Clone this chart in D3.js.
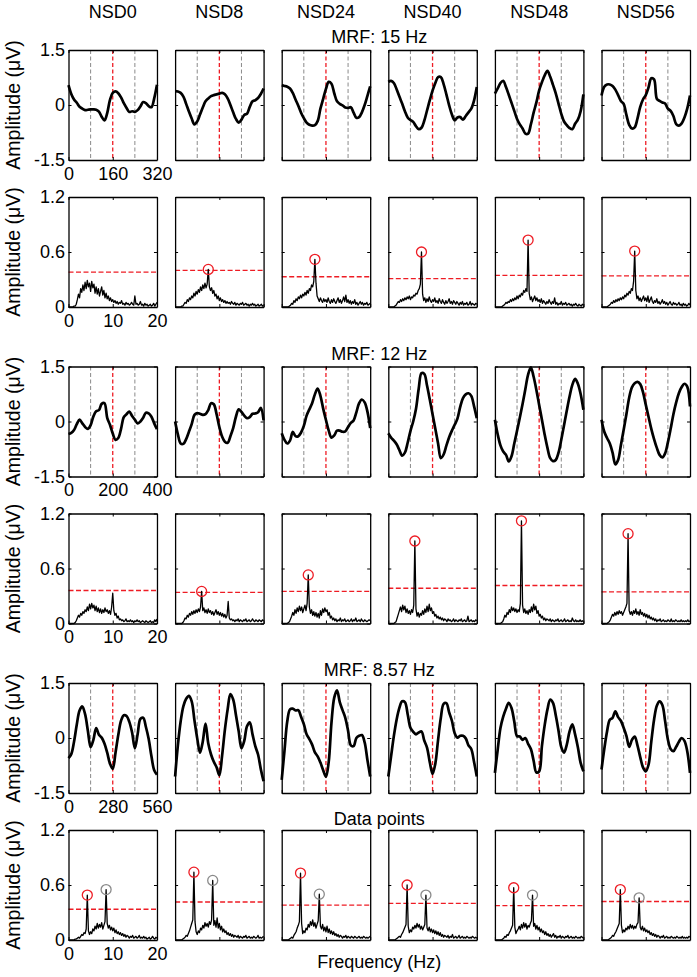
<!DOCTYPE html>
<html>
<head>
<meta charset="utf-8">
<title>mfVEP waveforms and spectra</title>
<script src="https://d3js.org/d3.v7.min.js"></script>
<style>
  body { margin: 0; background: #fff; }
  svg text {
    font-family: "Liberation Sans", Arial, Helvetica, sans-serif;
    font-size: 18px;
    fill: #000;
  }
  svg text.ylab { font-size: 19.5px; }
  .axis path { stroke: #000; stroke-width: 1.3; }
  .axis line { stroke: #000; stroke-width: 1; }
</style>
</head>
<body>
<div id="chart"></div>
<script>
// column names (subjects)
const subjects = ["NSD0", "NSD8", "NSD24", "NSD40", "NSD48", "NSD56"];
const titles = ["MRF: 15 Hz", "MRF: 12 Hz", "MRF: 8.57 Hz"];

// time axis (data points) for each stimulation rate
const waveLength = [320, 400, 560];
const waveTicks = [[0, 160, 320], [0, 200, 400], [0, 280, 560]];
const waveMarks = [[80, 160, 240], [100, 200, 300], [140, 280, 420]];
const ampTicks = [-1.5, 0, 1.5];

// averaged waveforms, 33 evenly spaced samples over the window (uV)
const waves15 = [
  [0.54,0.30,0.15,0.06,-0.05,-0.10,-0.14,-0.13,-0.12,-0.12,-0.13,-0.18,-0.32,-0.42,-0.22,0.14,0.33,0.37,0.32,0.21,0.05,-0.08,-0.19,-0.17,-0.19,-0.14,-0.04,0.08,0.05,-0.03,-0.06,0.18,0.55],
  [0.38,0.37,0.33,0.23,0.03,-0.18,-0.37,-0.53,-0.45,-0.26,-0.07,0.10,0.18,0.24,0.27,0.29,0.31,0.33,0.29,0.18,0.00,-0.20,-0.38,-0.48,-0.40,-0.27,-0.24,-0.05,0.10,0.13,0.19,0.30,0.45],
  [0.54,0.52,0.50,0.45,0.33,0.15,-0.02,-0.21,-0.36,-0.48,-0.54,-0.56,-0.55,-0.44,-0.10,0.17,0.44,0.63,0.58,0.32,0.10,0.03,-0.01,-0.07,-0.08,-0.06,-0.21,-0.35,-0.33,-0.20,0.00,0.25,0.51],
  [0.63,0.66,0.60,0.43,0.23,0.04,-0.17,-0.34,-0.41,-0.46,-0.58,-0.66,-0.62,-0.43,-0.15,0.13,0.39,0.60,0.76,0.76,0.57,0.29,-0.01,-0.26,-0.42,-0.34,-0.33,-0.40,-0.30,-0.20,-0.10,0.12,0.49],
  [0.31,0.45,0.60,0.66,0.49,0.28,0.06,-0.16,-0.38,-0.53,-0.64,-0.78,-0.78,-0.53,-0.21,0.07,0.40,0.62,0.81,0.93,0.77,0.55,0.32,0.04,-0.24,-0.45,-0.55,-0.63,-0.66,-0.51,-0.40,-0.17,0.29],
  [0.26,0.50,0.56,0.56,0.52,0.42,0.27,0.11,0.03,-0.27,-0.54,-0.64,-0.61,-0.37,-0.05,0.15,0.27,0.48,0.73,0.70,0.17,0.11,0.07,0.04,-0.10,-0.16,-0.30,-0.52,-0.56,-0.50,-0.34,-0.10,0.26]
];
const waves12 = [
  [-0.34,-0.31,-0.23,-0.07,0.05,-0.05,-0.15,-0.20,-0.10,0.14,0.28,0.31,0.48,0.50,0.10,-0.09,-0.33,-0.50,-0.45,-0.20,0.12,0.20,0.27,0.15,0.05,-0.05,0.00,0.10,0.24,0.22,0.13,-0.05,-0.21],
  [0.00,-0.35,-0.60,-0.61,-0.48,-0.28,-0.07,0.18,0.23,0.21,0.18,0.20,0.31,0.50,0.47,0.20,-0.15,-0.41,-0.55,-0.58,-0.40,-0.18,0.13,0.33,0.26,0.16,0.09,0.12,0.21,0.22,0.25,0.37,0.03],
  [-0.32,-0.50,-0.60,-0.52,-0.28,-0.40,-0.40,-0.30,-0.12,0.16,0.33,0.50,0.74,0.90,0.70,0.35,0.04,-0.25,-0.44,-0.38,-0.25,-0.25,-0.28,-0.27,-0.15,-0.04,0.03,0.25,0.50,0.60,0.52,0.27,-0.18],
  [-0.32,-0.44,-0.52,-0.62,-0.78,-0.93,-0.85,-0.58,-0.26,0.00,0.34,0.90,1.32,1.30,0.98,0.60,0.20,-0.20,-0.60,-1.00,-0.90,-0.66,-0.43,-0.25,-0.09,0.08,0.40,0.64,0.74,0.77,0.70,0.42,0.09],
  [0.05,-0.35,-0.65,-0.82,-0.91,-1.09,-0.95,-0.60,-0.25,0.10,0.48,0.88,1.28,1.48,1.22,0.86,0.45,0.05,-0.36,-0.72,-1.00,-1.08,-1.05,-0.85,-0.50,-0.10,0.30,0.68,1.00,1.16,1.03,0.75,0.32],
  [0.05,-0.28,-0.45,-0.60,-0.85,-1.17,-1.05,-0.65,-0.23,0.20,0.65,0.93,1.04,1.08,1.02,0.80,0.46,0.13,-0.20,-0.48,-0.72,-0.91,-0.98,-0.87,-0.57,-0.20,0.20,0.52,0.78,0.94,1.03,0.95,0.41]
];
const waves857 = [
  [-0.55,-0.44,-0.10,0.37,0.75,0.86,0.65,0.20,-0.25,-0.05,0.27,0.09,0.01,-0.15,-0.40,-0.70,-0.84,-0.40,0.08,0.47,0.62,0.60,0.44,0.15,-0.28,0.10,0.52,0.55,0.30,-0.03,-0.50,-0.88,-1.00],
  [-1.05,-0.20,0.45,0.87,1.07,1.15,1.00,0.48,-0.01,-0.40,-0.10,0.39,-0.15,-0.45,-0.65,-0.80,-1.02,-0.48,0.22,0.78,1.20,1.05,0.63,0.18,-0.28,-0.08,0.32,0.43,0.10,-0.22,-0.45,-0.85,-1.18],
  [-1.14,-0.35,0.45,0.78,0.80,0.75,0.76,0.58,0.38,0.10,-0.03,-0.18,-0.39,-0.50,-0.67,-0.88,-1.06,-0.65,0.42,1.10,1.30,0.98,0.76,0.55,0.20,-0.20,-0.22,0.00,0.06,0.08,-0.12,-0.60,-1.05],
  [-1.05,-0.50,0.05,0.50,0.82,1.00,0.98,0.65,0.28,0.17,0.10,0.15,0.18,-0.07,-0.26,-0.66,-0.98,-0.70,-0.05,0.55,0.93,0.95,0.70,0.47,0.13,0.01,0.06,0.06,-0.01,-0.20,-0.30,-0.65,-1.05],
  [-0.95,-0.32,0.27,0.58,0.80,0.96,0.82,0.45,0.05,0.04,-0.05,0.00,-0.16,-0.30,-0.62,-0.94,-0.91,-0.22,0.35,0.78,1.05,0.96,0.62,0.20,-0.25,-0.40,-0.18,0.18,0.37,0.10,-0.25,-0.68,-0.91],
  [-0.86,-0.30,0.18,0.50,0.55,0.73,0.57,0.47,0.28,0.06,-0.24,-0.05,0.04,-0.20,-0.52,-0.80,-0.91,-0.73,-0.10,0.50,0.88,1.00,0.90,0.46,-0.04,-0.30,-0.36,-0.24,-0.10,0.00,-0.08,-0.36,-0.95]
];

// amplitude spectra, 0..20 Hz every 0.25 Hz, in hundredths of uV
const specStep = 0.25;
const freqTicks = [0, 10, 20];
const specTicks = [0, 0.6, 1.2];
const spec15 = [
  [0,0,0,0,0,1,1,3,8,14, 10,20,16,24,18,27,20,29,22,26, 17,28,21,25,15,22,14,20,12,17, 22,13,18,10,15,9,12,7,10,6, 8,5,7,4,6,3,5,4,7,3, 4,2,5,3,4,2,3,5,3,2, 12,3,4,2,3,6,2,3,1,4, 2,3,1,2,3,1,2,4,1,3, 5],
  [0,0,0,0,0,0,1,1,3,5, 4,8,6,10,8,12,10,15,12,17, 14,19,16,22,18,24,20,26,21,25, 41,22,18,21,15,18,12,14,9,12, 7,10,6,8,5,7,4,6,4,5, 3,6,4,3,5,2,4,3,2,4, 3,5,2,3,4,2,3,1,3,2, 4,2,3,1,2,3,1,2,3,1, 2],
  [0,0,0,0,0,0,0,1,2,4, 3,7,5,9,7,11,9,13,10,14, 12,16,13,18,15,20,18,24,22,28, 52,26,12,9,6,10,7,5,9,6, 8,5,10,6,4,8,5,9,6,4, 7,10,5,8,4,7,11,6,13,5, 8,4,7,3,6,4,8,3,5,2, 4,6,3,5,2,4,3,5,2,3, 4],
  [0,0,0,0,0,0,1,2,4,6, 5,8,6,9,7,10,8,11,9,12, 8,11,10,13,12,15,14,18,20,25, 60,14,7,10,5,9,6,11,7,5, 8,6,10,5,7,4,9,6,4,8, 5,3,7,4,6,9,4,6,3,7, 5,3,6,4,2,5,3,6,2,4, 3,5,2,3,6,2,4,3,2,4, 3],
  [0,0,0,0,0,0,0,1,2,3, 5,4,6,5,8,6,9,7,10,8, 12,9,13,11,15,13,18,16,20,17, 73,15,8,11,6,9,12,7,10,6, 8,5,9,4,7,5,3,6,4,8, 5,3,6,4,10,3,5,2,4,3, 6,2,4,3,5,2,3,4,2,3, 1,3,2,4,2,1,3,2,1,3, 2],
  [0,0,0,0,0,0,1,2,3,5, 4,7,5,8,6,9,7,10,8,11, 9,13,11,15,13,17,15,20,18,28, 61,18,9,12,7,10,6,9,12,7, 10,6,12,5,8,11,6,4,7,5, 9,4,6,3,5,8,4,6,3,5, 2,4,6,3,2,5,3,4,2,3, 5,2,3,1,4,2,3,1,2,4, 2]
];
const spec12 = [
  [0,0,0,0,0,0,1,3,6,9, 7,11,9,13,11,15,13,18,14,21, 16,22,17,20,14,19,13,17,12,16, 11,15,12,17,13,15,11,14,10,18, 33,14,9,11,6,8,4,5,3,4, 2,3,5,2,3,2,4,2,3,1, 3,2,4,2,3,1,2,3,2,1, 3,2,1,2,3,1,2,1,4,2, 5],
  [0,0,0,0,0,0,0,1,3,6, 5,9,7,11,9,13,10,14,11,15, 12,16,13,18,35,14,17,12,15,11, 16,12,14,10,13,9,12,15,10,13, 9,12,8,11,7,10,6,9,24,6, 4,5,3,4,2,4,3,5,2,4, 3,2,4,3,5,2,3,4,2,3, 5,3,2,4,3,2,4,3,2,4, 3],
  [0,0,0,0,0,0,1,2,5,8, 12,9,15,11,17,13,19,14,18,12, 16,20,14,22,53,18,11,15,9,13, 8,12,7,11,6,14,9,16,12,17, 13,15,9,12,6,8,4,6,3,5, 2,4,3,6,2,4,3,5,2,3, 4,2,3,5,2,4,3,6,2,3, 4,2,5,3,2,4,3,2,3,4, 3],
  [0,0,0,0,0,0,1,2,6,10, 14,18,13,20,15,19,12,16,11,14, 10,15,12,20,90,16,8,12,7,11, 9,14,10,16,12,19,13,21,14,17, 11,13,8,10,6,8,5,7,4,6, 3,5,4,2,5,3,4,2,3,5, 2,4,3,2,4,3,5,2,3,4, 2,3,8,2,3,4,2,3,2,4, 3],
  [0,0,0,0,0,0,1,2,5,9, 7,12,10,15,12,18,14,17,13,16, 12,15,13,22,112,20,12,16,11,14, 10,15,12,18,13,21,15,19,11,14, 8,10,6,8,4,6,3,5,4,3, 5,2,4,3,2,4,3,5,2,3, 4,2,3,5,2,3,4,2,3,2, 6,3,2,4,2,3,2,4,2,3, 2],
  [0,0,0,0,0,0,1,2,4,7, 10,8,12,9,13,10,14,11,13,9, 12,15,18,22,98,14,10,13,9,14, 11,16,10,13,9,15,10,12,8,11, 7,10,6,9,5,7,4,6,3,5, 2,4,3,5,2,3,4,2,3,2, 4,3,2,5,2,3,2,4,3,2, 3,2,4,2,3,2,3,2,4,2, 3]
];
const spec857 = [
  [0,0,0,0,0,0,1,1,2,3, 2,4,6,5,8,7,12,49,10,6, 9,7,12,10,15,12,18,13,17,14, 19,12,16,20,55,18,13,16,11,14, 10,13,8,11,7,9,6,8,5,7, 4,6,3,5,4,2,4,3,5,2, 3,4,2,3,5,2,3,2,4,2, 3,1,2,3,1,2,4,2,1,3, 2],
  [0,0,0,0,0,0,0,1,2,3, 5,4,7,10,14,18,22,74,20,9, 6,10,8,13,11,16,13,19,15,18, 14,20,17,22,65,16,21,14,24,13, 18,11,15,9,12,8,10,6,8,5, 7,4,6,3,5,4,3,5,2,4, 3,2,4,3,5,2,3,4,2,3, 2,4,3,2,3,5,2,3,2,3, 4],
  [0,0,0,0,0,0,0,1,2,3, 2,5,7,9,13,16,20,73,18,7, 10,8,13,11,17,14,20,16,22,15, 19,13,17,21,50,15,12,17,10,14, 9,15,8,12,7,10,6,9,5,7, 4,6,3,5,4,2,4,3,5,2, 4,3,2,4,3,2,4,3,2,3, 4,2,3,2,4,3,2,3,2,3, 4],
  [0,0,0,0,0,0,0,1,2,3, 4,3,6,8,11,14,17,60,15,8, 11,9,14,12,16,13,18,14,17,12, 15,11,14,17,49,13,10,14,9,12, 8,11,7,10,6,9,5,8,4,6, 3,5,4,3,5,2,4,3,6,2, 3,4,2,3,5,2,3,4,2,3, 2,4,3,2,3,2,4,3,2,3, 2],
  [0,0,0,0,0,0,0,1,2,4, 3,6,5,8,10,13,16,57,14,7, 10,12,15,11,17,13,19,14,18,12, 16,14,18,21,49,15,18,12,16,11, 14,9,12,8,10,6,9,5,7,4, 6,3,5,7,3,5,2,4,3,5, 2,4,3,2,4,3,5,2,3,4, 2,3,2,4,3,2,3,2,4,3, 2],
  [0,0,0,0,0,0,0,1,2,3, 5,4,7,9,12,15,18,55,16,8, 11,9,13,11,15,12,17,13,16,12, 15,13,17,19,46,14,11,15,10,13, 9,11,8,10,6,8,5,7,4,6, 3,5,4,2,4,3,5,2,3,4, 2,3,2,4,3,2,3,2,4,3, 2,3,2,4,2,3,2,3,2,4, 3]
];

// significance thresholds (uV) and response frequencies (Hz)
const thr15 = [0.38, 0.40, 0.33, 0.31, 0.345, 0.34];
const thr12 = [0.36, 0.34, 0.35, 0.385, 0.415, 0.345];
const thr857 = [0.335, 0.415, 0.38, 0.40, 0.375, 0.42];
const peakFreqs = [[7.5], [6], [4.25, 8.5]];

const conditions = titles.map((t, c) => ({
  title: t,
  len: waveLength[c],
  ticks: waveTicks[c],
  marks: waveMarks[c],
  waves: [waves15, waves12, waves857][c],
  spectra: [spec15, spec12, spec857][c],
  thr: [thr15, thr12, thr857][c],
  peaks: peakFreqs[c]
}));

// layout
const W = 697, H = 977;
const panelH = 110;
const rowTops = [50, 197, 366.5, 513.5, 683, 830];
const RED = "#ee1c24", GREY = "#8a8a8a";

const svg = d3.select("#chart").append("svg")
  .attr("width", W)
  .attr("height", H);

const xCol = d3.scaleBand()
  .domain(subjects)
  .range([68.5, 690])
  .paddingInner(0.17);
const bw = xCol.bandwidth();
const midX = (68.5 + 690) / 2;

// column headers
svg.selectAll(".colhead")
  .data(subjects)
  .join("text")
  .attr("class", "colhead")
  .attr("x", d => xCol(d) + bw / 2)
  .attr("y", 18)
  .attr("text-anchor", "middle")
  .text(d => d);

// frame with inward ticks on all 4 sides
function frame(g, x, y, xt, yt, showLabels) {
  const fmt = d => String(d);
  g.append("g").attr("class", "axis")
    .call(d3.axisLeft(y).tickValues(yt).tickSize(-3).tickSizeOuter(0).tickPadding(3.5)
      .tickFormat(showLabels ? fmt : ""));
  g.append("g").attr("class", "axis")
    .attr("transform", `translate(${bw},0)`)
    .call(d3.axisRight(y).tickValues(yt).tickSize(-3).tickSizeOuter(0).tickFormat(""));
  g.append("g").attr("class", "axis")
    .attr("transform", `translate(0,${panelH})`)
    .call(d3.axisBottom(x).tickValues(xt).tickSize(-3).tickSizeOuter(0).tickPadding(7)
      .tickFormat(showLabels ? fmt : ""));
  g.append("g").attr("class", "axis")
    .call(d3.axisTop(x).tickValues(xt).tickSize(-3).tickSizeOuter(0).tickFormat(""));
  g.selectAll(".axis text").attr("font-size", null).attr("font-family", null);
}

function yLabel(top) {
  svg.append("text")
    .attr("class", "ylab")
    .attr("transform", `translate(20,${top + panelH / 2}) rotate(-90)`)
    .attr("text-anchor", "middle")
    .text("Amplitude (\u03bcV)");
}

conditions.forEach((cond, c) => {
  const wTop = rowTops[2 * c];
  const sTop = rowTops[2 * c + 1];

  // condition title
  svg.append("text")
    .attr("x", midX)
    .attr("y", wTop - 7)
    .attr("text-anchor", "middle")
    .text(cond.title);

  yLabel(wTop);
  yLabel(sTop);

  const xW = d3.scaleLinear().domain([0, cond.len]).range([0, bw]);
  const yW = d3.scaleLinear().domain([-1.5, 1.5]).range([panelH, 0]);
  const xS = d3.scaleLinear().domain([0, 20]).range([0, bw]);
  const yS = d3.scaleLinear().domain([0, 1.2]).range([panelH, 0]);

  subjects.forEach((s, j) => {
    // waveform panel
    const gw = svg.append("g").attr("transform", `translate(${xCol(s)},${wTop})`);
    gw.selectAll(".mark")
      .data(cond.marks)
      .join("line")
      .attr("x1", d => xW(d)).attr("x2", d => xW(d))
      .attr("y1", 0).attr("y2", panelH)
      .attr("stroke", (d, i) => i === 1 ? RED : GREY)
      .attr("stroke-width", (d, i) => i === 1 ? 1.3 : 1)
      .attr("stroke-dasharray", "4,2.5");

    const vals = cond.waves[j];
    const wline = d3.line()
      .x((d, i) => xW(i * cond.len / (vals.length - 1)))
      .y(d => yW(d))
      .curve(d3.curveCatmullRom);
    gw.append("path")
      .datum(vals)
      .attr("d", wline)
      .attr("fill", "none")
      .attr("stroke", "#000")
      .attr("stroke-width", 2.7)
      .attr("stroke-linejoin", "round");

    frame(gw, xW, yW, cond.ticks, ampTicks, j === 0);

    // spectrum panel
    const gs = svg.append("g").attr("transform", `translate(${xCol(s)},${sTop})`);
    const spec = cond.spectra[j];
    const thr = cond.thr[j];

    gs.append("line")
      .attr("x1", 0).attr("x2", bw)
      .attr("y1", yS(thr)).attr("y2", yS(thr))
      .attr("stroke", RED)
      .attr("stroke-width", 1.4)
      .attr("stroke-dasharray", "5,2.5");

    gs.append("path")
      .datum(spec)
      .attr("d", d3.line().x((d, i) => xS(i * specStep)).y(d => yS(d / 100)))
      .attr("fill", "none")
      .attr("stroke", "#000")
      .attr("stroke-width", 1.3)
      .attr("stroke-linejoin", "round");

    const hits = cond.peaks
      .map((f, k) => ({ f: f, v: spec[Math.round(f / specStep)] / 100, k: k }))
      .filter(p => p.v > thr);
    gs.selectAll(".peak")
      .data(hits)
      .join("circle")
      .attr("cx", d => xS(d.f))
      .attr("cy", d => yS(d.v))
      .attr("r", 5)
      .attr("fill", "none")
      .attr("stroke", d => d.k === 0 ? RED : GREY)
      .attr("stroke-width", 1.3);

    frame(gs, xS, yS, freqTicks, specTicks, j === 0);
  });
});

// bottom captions
svg.append("text")
  .attr("x", midX)
  .attr("y", rowTops[4] + panelH + 32)
  .attr("text-anchor", "middle")
  .text("Data points");

svg.append("text")
  .attr("x", midX)
  .attr("y", 968)
  .attr("text-anchor", "middle")
  .text("Frequency (Hz)");
</script>
</body>
</html>
